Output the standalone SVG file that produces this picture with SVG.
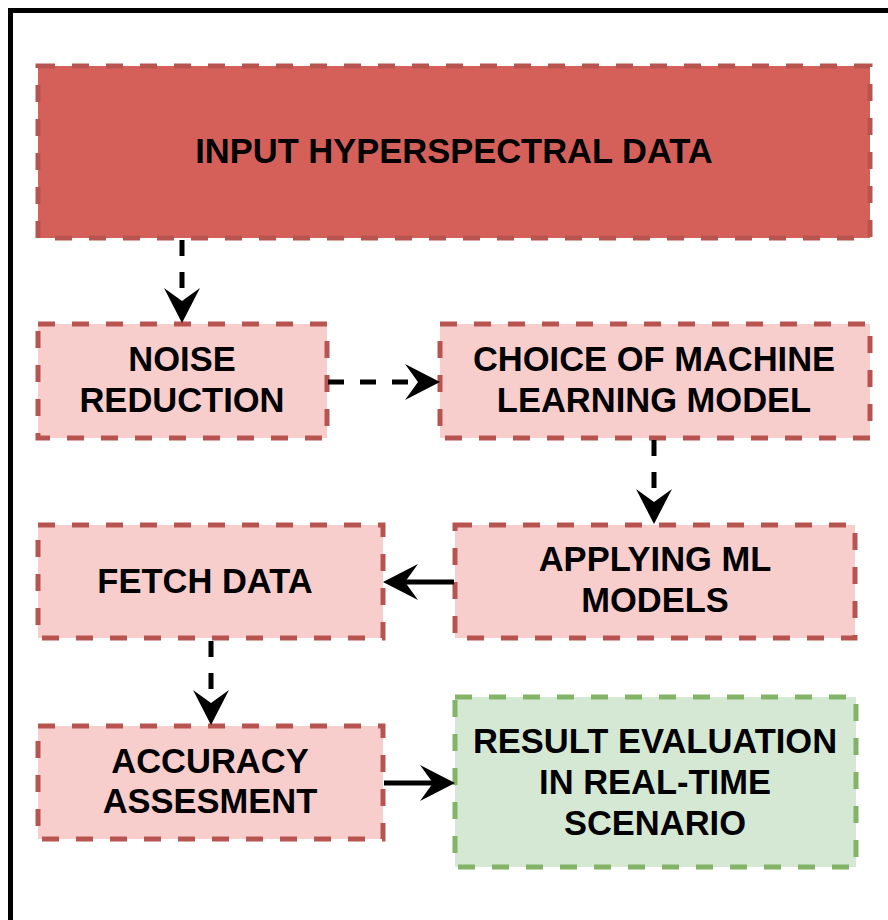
<svg xmlns="http://www.w3.org/2000/svg" width="888" height="920" viewBox="0 0 888 920">
  <style>
    .box { stroke-width: 5; stroke-dasharray: 17 17; }
    .red { fill: #f8cecc; stroke: #b85450; }
    .dark { fill: #d5605a; stroke: #b85450; }
    .green { fill: #d5e8d4; stroke: #82b366; }
    .lbl { font-family: "Liberation Sans", Arial, Helvetica, sans-serif; font-weight: bold; font-size: 34.5px; fill: #000; text-anchor: middle; }
    .edge { fill: none; stroke: #000; stroke-width: 5; }
    .dash { stroke-dasharray: 16 16; }
  </style>
  <defs>
    <marker id="arrow" markerUnits="userSpaceOnUse" viewBox="-16 -20 40 40" refX="0" refY="0" markerWidth="40" markerHeight="40" orient="auto" overflow="visible">
      <path d="M22,0 L-13,-18 L0,0 L-13,18 Z" fill="#000"/>
    </marker>
  </defs>

  <rect x="0" y="0" width="888" height="920" fill="#fff"/>
  <!-- outer frame -->
  <rect x="10.5" y="10.5" width="900" height="930" fill="none" stroke="#000" stroke-width="5"/>

  <g id="input">
    <rect class="box dark" x="38" y="66" width="832" height="172"/>
    <text class="lbl" x="454" y="163">INPUT HYPERSPECTRAL DATA</text>
  </g>

  <g id="noise">
    <rect class="box red" x="38" y="324" width="289" height="114"/>
    <text class="lbl" x="182" y="371">NOISE</text>
    <text class="lbl" x="182" y="412">REDUCTION</text>
  </g>

  <g id="choice">
    <rect class="box red" x="440" y="324" width="430" height="114"/>
    <text class="lbl" x="654" y="371">CHOICE OF MACHINE</text>
    <text class="lbl" x="654" y="412">LEARNING MODEL</text>
  </g>

  <g id="applying">
    <rect class="box red" x="455" y="525" width="400" height="113"/>
    <text class="lbl" x="655" y="571">APPLYING ML</text>
    <text class="lbl" x="655" y="612">MODELS</text>
  </g>

  <g id="fetch">
    <rect class="box red" x="38" y="525" width="345" height="113"/>
    <text class="lbl" x="205" y="593">FETCH DATA</text>
  </g>

  <g id="accuracy">
    <rect class="box red" x="38" y="726" width="345" height="113"/>
    <text class="lbl" x="210" y="773">ACCURACY</text>
    <text class="lbl" x="210" y="813">ASSESMENT</text>
  </g>

  <g id="result">
    <rect class="box green" x="455" y="697" width="401" height="170"/>
    <text class="lbl" x="655" y="753">RESULT EVALUATION</text>
    <text class="lbl" x="655" y="794">IN REAL-TIME</text>
    <text class="lbl" x="655" y="835">SCENARIO</text>
  </g>

  <g id="connectors">
    <path class="edge dash" d="M182,240 L182,301" marker-end="url(#arrow)"/>
    <path class="edge dash" d="M328,382 L418,382" marker-end="url(#arrow)"/>
    <path class="edge dash" d="M654,440 L654,502" marker-end="url(#arrow)"/>
    <path class="edge" d="M454,582 L405,582" marker-end="url(#arrow)"/>
    <path class="edge dash" d="M211,641 L211,703" marker-end="url(#arrow)"/>
    <path class="edge" d="M384,783 L433,783" marker-end="url(#arrow)"/>
  </g>
</svg>
